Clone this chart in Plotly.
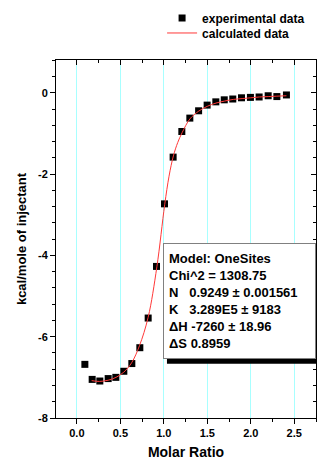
import plotly.graph_objects as go

exp_x = [0.092, 0.176, 0.264, 0.36, 0.448, 0.54, 0.632, 0.724, 0.82, 0.916, 1.008, 1.107,
         1.207, 1.299, 1.40, 1.498, 1.598, 1.695, 1.793, 1.893, 1.996, 2.096, 2.20, 2.30, 2.41]
exp_y = [-6.68, -7.05, -7.09, -7.03, -7.00, -6.85, -6.66, -6.27, -5.54, -4.27, -2.73, -1.58,
         -0.95, -0.62, -0.44, -0.30, -0.22, -0.17, -0.15, -0.12, -0.11, -0.10, -0.07, -0.09, -0.05]

# calculated (fitted) curve
calc_x = [0.17, 0.26, 0.36, 0.45, 0.54, 0.63, 0.72, 0.82, 0.92, 1.01, 1.06, 1.11, 1.16, 1.21,
          1.30, 1.40, 1.50, 1.60, 1.70, 1.80, 1.90, 2.00, 2.10, 2.20, 2.30, 2.41]
calc_y = [-7.08, -7.10, -7.07, -7.00, -6.87, -6.64, -6.22, -5.52, -4.28, -2.75, -2.05, -1.55,
          -1.22, -0.98, -0.64, -0.45, -0.33, -0.25, -0.20, -0.16, -0.14, -0.12, -0.10, -0.09,
          -0.08, -0.07]

x_tickvals = [0.0, 0.5, 1.0, 1.5, 2.0, 2.5]
x_ticktext = ["0.0", "0.5", "1.0", "1.5", "2.0", "2.5"]
y_tickvals = [-8, -6, -4, -2, 0]
y_ticktext = ["-8", "-6", "-4", "-2", "0"]

fit_text = ("Model: OneSites<br>Chi^2 = 1308.75<br>"
            "N\u00a0\u00a0\u00a00.9249 \u00b1 0.001561<br>"
            "K\u00a0\u00a0\u00a03.289E5 \u00b1 9183<br>"
            "\u0394H -7260 \u00b1 18.96<br>"
            "\u0394S 0.8959")

FONT = "Liberation Sans, Arial, sans-serif"
GRID = "#a8ffff"
LEGEND_FONT = dict(family=FONT, size=12, weight="bold", color="black")

fig = go.Figure()
fig.add_trace(go.Scatter(x=exp_x, y=exp_y, mode="markers", name="experimental data",
                         legend="legend",
                         marker=dict(symbol="square", size=7, color="black")))
fig.add_trace(go.Scatter(x=calc_x, y=calc_y, mode="lines", name="calculated data",
                         legend="legend2",
                         line=dict(color="#ff3838", width=1, shape="spline")))

common_x = dict(range=[-0.24, 2.75], tickvals=x_tickvals, showline=True, linecolor="black",
                linewidth=1, zeroline=False, automargin=False)
common_y = dict(range=[-8, 0.81], tickvals=y_tickvals, showline=True, linecolor="black",
                linewidth=1, zeroline=False, automargin=False)

fig.update_layout(
    width=320, height=460,
    margin=dict(l=56, r=4, t=58, b=42),
    paper_bgcolor="white", plot_bgcolor="white",
    font=dict(family=FONT, color="black"),
    showlegend=True,
    legend=dict(x=0.408, y=1.158, xanchor="left", yanchor="top", font=LEGEND_FONT,
                bgcolor="rgba(0,0,0,0)", itemwidth=30),
    legend2=dict(x=0.408, y=1.116, xanchor="left", yanchor="top", font=LEGEND_FONT,
                 bgcolor="rgba(0,0,0,0)", itemwidth=30),
    xaxis=dict(**common_x, ticktext=x_ticktext, ticks="outside", ticklen=5,
               tickcolor="black", showgrid=True, gridcolor=GRID, gridwidth=1,
               tickfont=dict(family=FONT, size=11, weight="bold"),
               title=dict(text="Molar Ratio", font=dict(family=FONT, size=14, weight="bold"),
                          standoff=12),
               minor=dict(dtick=0.25, tick0=0, ticks="outside", ticklen=3, tickcolor="black",
                          showgrid=False)),
    xaxis2=dict(**common_x, overlaying="x", side="top", anchor="y", matches="x",
                ticks="inside", ticklen=5, tickcolor="black", showticklabels=False,
                showgrid=False,
                minor=dict(dtick=0.25, tick0=0, ticks="inside", ticklen=3, tickcolor="black",
                           showgrid=False)),
    yaxis=dict(**common_y, ticktext=y_ticktext, ticks="outside", ticklen=5, tickcolor="black",
               showgrid=False,
               tickfont=dict(family=FONT, size=11, weight="bold"),
               title=dict(text="kcal/mole of injectant",
                          font=dict(family=FONT, size=13, weight="bold"), standoff=8),
               minor=dict(dtick=0.4, tick0=0, ticks="outside", ticklen=3, tickcolor="black",
                          showgrid=False)),
    yaxis2=dict(**common_y, overlaying="y", side="right", anchor="x", matches="y",
                ticks="inside", ticklen=5, tickcolor="black", showticklabels=False,
                showgrid=False,
                minor=dict(dtick=0.4, tick0=0, ticks="inside", ticklen=3, tickcolor="black",
                           showgrid=False)),
)

# invisible trace to activate the mirror axes
fig.add_trace(go.Scatter(x=[None], y=[None], xaxis="x2", yaxis="y2", showlegend=False,
                         hoverinfo="skip"))

# fit-results box with drop shadow
BOX_X, BOX_Y = 0.99, -3.69
BOX_W, BOX_H, PAD = 141, 104, 5
outer_w = BOX_W + 2 * PAD + 2
outer_h = BOX_H + 2 * PAD + 2
fig.add_shape(type="rect", xref="x", yref="y", xsizemode="pixel", ysizemode="pixel",
              xanchor=BOX_X, yanchor=BOX_Y, x0=4, x1=4 + outer_w, y0=-5, y1=-5 - outer_h,
              fillcolor="black", line=dict(width=0), layer="above")
fig.add_annotation(text=fit_text, xref="x", yref="y", x=BOX_X, y=BOX_Y, xanchor="left",
                   yanchor="top", align="left", valign="middle", showarrow=False,
                   width=BOX_W, height=BOX_H, borderpad=PAD, borderwidth=1,
                   bgcolor="white", bordercolor="#808080",
                   font=dict(family=FONT, size=13, weight="bold", color="black"))

fig.write_html("out.html", config={"displayModeBar": False},
               post_script="document.body.style.margin='0';")
